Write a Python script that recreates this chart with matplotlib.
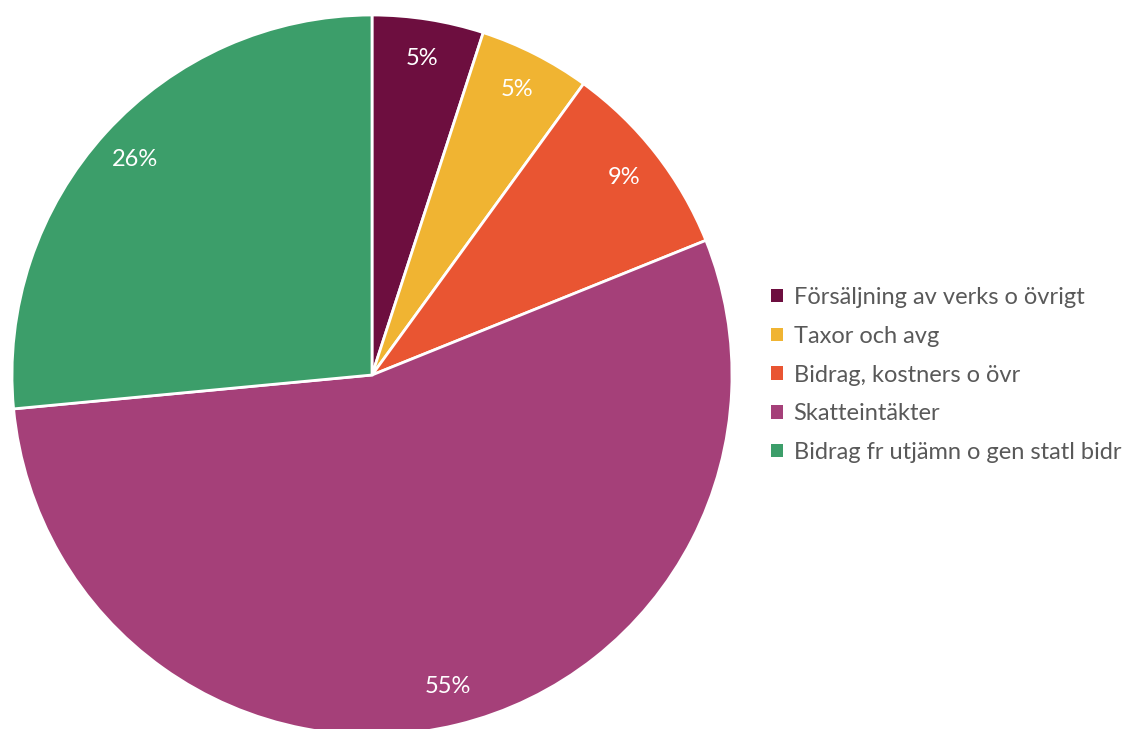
import matplotlib
matplotlib.use("Agg")
import matplotlib.pyplot as plt
from matplotlib.patches import Patch

categories = ["Försäljning av verks o övrigt", "Taxor och avg", "Bidrag, kostners o övr",
              "Skatteintäkter", "Bidrag fr utjämn o gen statl bidr"]
values = [5.0, 5.0, 8.9, 54.6, 26.5]
labels = ["5%", "5%", "9%", "55%", "26%"]
colors = ["#6D0E3F", "#F0B432", "#E95532", "#A54079", "#3C9E6A"]

plt.rcParams['font.family'] = ['Lato', 'DejaVu Sans']

W, H = 1124, 729
fig = plt.figure(figsize=(W / 100, H / 100), dpi=100)
cx, cy, r = 372, 375, 360
ax = fig.add_axes([(cx - r) / W, (H - cy - r) / H, 2 * r / W, 2 * r / H])
wedges, texts = ax.pie(values, colors=colors, startangle=90, counterclock=False,
                       labels=labels, labeldistance=0.89, radius=1,
                       wedgeprops=dict(edgecolor="white", linewidth=2),
                       textprops=dict(color="white", fontsize=17))
for t in texts:
    t.set_ha("center")
    t.set_va("center")
ax.set_xlim(-1, 1)
ax.set_ylim(-1, 1)
ax.set_aspect("equal")
ax.axis("off")

handles = [Patch(facecolor=c, edgecolor="none") for c in colors]
fig.legend(handles, categories, loc="center left",
           bbox_to_anchor=(750 / W, 1 - 375 / H), frameon=False,
           fontsize=17, labelcolor="#595959", handlelength=0.5, handleheight=0.5,
           handletextpad=0.45, labelspacing=0.75)

fig.savefig("out.png", dpi=100)
